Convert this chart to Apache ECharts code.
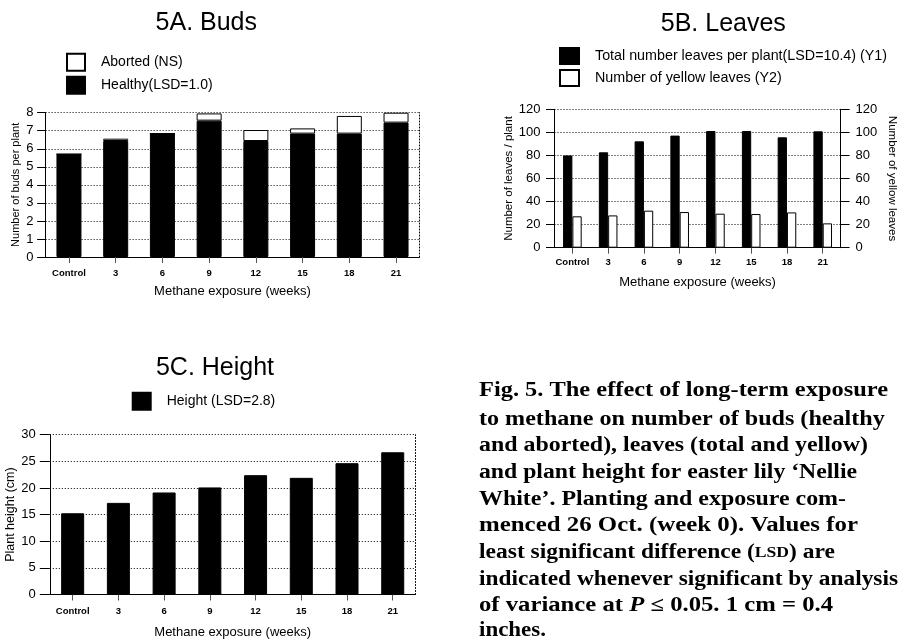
<!DOCTYPE html>
<html>
<head>
<meta charset="utf-8">
<script src="https://cdn.jsdelivr.net/npm/echarts@6/dist/echarts.min.js"></script>
<style>
html,body{margin:0;padding:0;background:#fff;}
#c{width:905px;height:640px;}
</style>
</head>
<body>
<div id="c"></div>
<script>
// ---- data ----
var categories = ['Control', '3', '6', '9', '12', '15', '18', '21'];
var budsHealthy = [5.7, 6.43, 6.84, 7.56, 6.43, 6.84, 6.84, 7.45];
var budsAborted = [0, 0.13, 0, 0.4, 0.61, 0.29, 0.98, 0.55];
var leavesTotal = [80, 82.7, 92.2, 97.2, 101.2, 101.2, 95.7, 100.9];
var leavesYellow = [27.2, 28, 32.1, 30.9, 29.5, 29.2, 30.6, 21.1];
var plantHeight = [15.25, 17.2, 19.15, 20.1, 22.4, 21.9, 24.65, 26.7];
var budTicks = {min: 0, max: 8, interval: 1};
var leafTicks = {min: 0, max: 120, interval: 20};
var heightTicks = {min: 0, max: 30, interval: 5};
var captionLines = [
  'Fig. 5. The effect of long-term exposure',
  'to methane on number of buds (healthy',
  'and aborted), leaves (total and yellow)',
  'and plant height for easter lily \u2018Nellie',
  'White\u2019. Planting and exposure com-',
  'menced 26 Oct. (week 0). Values for',
  'least significant difference ({sc|LSD}) are',
  'indicated whenever significant by analysis',
  'of variance at {i|P} \u2264 0.05. 1 cm = 0.4',
  'inches.'
];

// ---- layout (not data) ----
var captionLayout = {
  x: 479,
  ys: [393.3, 421.7, 448.3, 475, 501.7, 528.3, 555, 581.7, 608.3, 633.3],
  widths: [409, 405.7, 389, 378, 367, 379, 356, 419, 354, 67],
  fontSize: 20
};

var FONT = '"Liberation Sans", Arial, Helvetica, sans-serif';
var SERIF = '"Liberation Serif", "Times New Roman", serif';
var chart = echarts.init(document.getElementById('c'), null, {renderer: 'canvas'});

var measureCtx = document.createElement('canvas').getContext('2d');
function plainWidth(line) {
  measureCtx.font = 'bold ' + captionLayout.fontSize + 'px ' + SERIF;
  var plain = line.replace(/\{sc\|([^}]*)\}/g, '$1').replace(/\{i\|([^}]*)\}/g, '$1');
  var w = measureCtx.measureText(plain).width;
  var sc = line.match(/\{sc\|([^}]*)\}/);
  if (sc) {
    var full = measureCtx.measureText(sc[1]).width;
    w -= full * 0.25;
  }
  return w;
}

function catAxis(gi, labelMargin, nameGap) {
  return {
    type: 'category', gridIndex: gi, data: categories,
    axisLine: {show: true, lineStyle: {color: '#000', width: 1}},
    axisTick: {show: true, alignWithLabel: true, interval: 0, length: 6, lineStyle: {color: '#555'}},
    axisLabel: {color: '#000', fontFamily: FONT, fontSize: 9.5, fontWeight: 'bold', margin: labelMargin, interval: 0},
    name: 'Methane exposure (weeks)', nameLocation: 'middle', nameGap: nameGap,
    nameTextStyle: {color: '#000', fontFamily: FONT, fontSize: 13}
  };
}
function valAxis(gi, ticks, name, nameGap, nameSize, labelSize, labelMargin, tickLen) {
  return {
    type: 'value', gridIndex: gi, min: ticks.min, max: ticks.max, interval: ticks.interval,
    axisLine: {show: true, lineStyle: {color: '#000', width: 1}},
    axisTick: {show: true, length: tickLen, lineStyle: {color: '#000'}},
    axisLabel: {color: '#000', fontFamily: FONT, fontSize: labelSize, margin: labelMargin},
    splitLine: {show: true, lineStyle: {color: '#000', width: 1, type: [1, 2]}},
    name: name, nameLocation: 'middle', nameGap: nameGap, nameRotate: 90,
    nameTextStyle: {color: '#000', fontFamily: FONT, fontSize: nameSize}
  };
}
function borderAxis(gi, ticks) {
  return {
    type: 'value', gridIndex: gi, position: 'right', min: ticks.min, max: ticks.max, interval: ticks.interval,
    axisLine: {show: true, lineStyle: {color: '#000', width: 1, type: [1, 2]}},
    axisTick: {show: false}, axisLabel: {show: false}, splitLine: {show: false}
  };
}

var rightLeaf = {
  type: 'value', gridIndex: 1, position: 'right', min: leafTicks.min, max: leafTicks.max, interval: leafTicks.interval,
  axisLine: {show: true, lineStyle: {color: '#000', width: 1}},
  axisTick: {show: true, length: 9, lineStyle: {color: '#000'}},
  axisLabel: {color: '#000', fontFamily: FONT, fontSize: 13, margin: 15},
  splitLine: {show: false},
  name: 'Number of yellow leaves', nameLocation: 'middle', nameGap: 46, nameRotate: -90,
  nameTextStyle: {color: '#000', fontFamily: FONT, fontSize: 11.5}
};

var fs = captionLayout.fontSize;
var captionGraphics = captionLines.map(function (t, i) {
  var sx = captionLayout.widths[i] / plainWidth(t);
  return {
    type: 'text', x: captionLayout.x, y: captionLayout.ys[i] - 2, scaleX: sx, scaleY: 1,
    style: {
      text: t, fill: '#000', font: 'bold ' + fs + 'px ' + SERIF, verticalAlign: 'middle', align: 'left',
      rich: {
        i: {font: 'bold italic ' + fs + 'px ' + SERIF, fill: '#000'},
        sc: {font: 'bold ' + Math.round(fs * 0.75) + 'px ' + SERIF, fill: '#000'}
      }
    }
  };
});

var titleText = function (text, cx, cy) {
  return {type: 'text', x: cx, y: cy, style: {text: text, fill: '#000', font: '25px ' + FONT, align: 'center', verticalAlign: 'middle'}};
};

var legendText = {color: '#000', fontFamily: FONT, fontSize: 14, padding: [0, 0, 0, 11]};

var option = {
  animation: false,
  backgroundColor: '#fff',
  grid: [
    {left: 45.6, top: 112.7, width: 373.8, height: 144.3},
    {left: 554.5, top: 109.3, width: 286.1, height: 138.4},
    {left: 49.8, top: 434.7, width: 365.8, height: 161.3}
  ],
  legend: [
    {left: 66, top: 52.7, padding: 0, orient: 'vertical', icon: 'rect', itemWidth: 18, itemHeight: 17, itemGap: 4,
     data: ['Aborted (NS)', 'Healthy(LSD=1.0)'], textStyle: legendText},
    {left: 559, top: 47, padding: 0, orient: 'vertical', icon: 'rect', itemWidth: 19, itemHeight: 16, itemGap: 4,
     data: ['Total number leaves per plant(LSD=10.4) (Y1)', 'Number of yellow leaves (Y2)'],
     textStyle: {color: '#000', fontFamily: FONT, fontSize: 14.3, padding: [0, 0, 0, 11]}},
    {left: 131.7, top: 391.7, padding: 0, orient: 'vertical', icon: 'rect', itemWidth: 18, itemHeight: 17,
     data: ['Height (LSD=2.8)'], textStyle: legendText}
  ],
  xAxis: [catAxis(0, 11, 27.5), catAxis(1, 10, 28), catAxis(2, 11.5, 31.5)],
  yAxis: [
    valAxis(0, budTicks, 'Number of buds per plant', 24, 11, 13, 12, 8.5),
    borderAxis(0, budTicks),
    valAxis(1, leafTicks, 'Number of leaves / plant', 38, 11.5, 13, 14, 8.5),
    rightLeaf,
    valAxis(2, heightTicks, 'Plant height (cm)', 27, 12.5, 13, 14, 10),
    borderAxis(2, heightTicks)
  ],
  series: [
    {name: 'Healthy(LSD=1.0)', type: 'bar', xAxisIndex: 0, yAxisIndex: 0, stack: 'buds', barWidth: 25,
     data: budsHealthy, itemStyle: {color: '#000', borderColor: '#000', borderWidth: 1}},
    {name: 'Aborted (NS)', type: 'bar', xAxisIndex: 0, yAxisIndex: 0, stack: 'buds', barWidth: 25,
     data: budsAborted, itemStyle: {color: '#fff', borderColor: '#000', borderWidth: 1}},
    {name: 'Total number leaves per plant(LSD=10.4) (Y1)', type: 'bar', xAxisIndex: 1, yAxisIndex: 2,
     barWidth: 9.3, barGap: '0%', data: leavesTotal, itemStyle: {color: '#000', borderColor: '#000', borderWidth: 1}},
    {name: 'Number of yellow leaves (Y2)', type: 'bar', xAxisIndex: 1, yAxisIndex: 3,
     barWidth: 9.3, barGap: '0%', data: leavesYellow, itemStyle: {color: '#fff', borderColor: '#000', borderWidth: 1}},
    {name: 'Height (LSD=2.8)', type: 'bar', xAxisIndex: 2, yAxisIndex: 4, barWidth: 23,
     data: plantHeight, itemStyle: {color: '#000', borderColor: '#000', borderWidth: 1}}
  ],
  graphic: [
    titleText('5A. Buds', 206.3, 23),
    titleText('5B. Leaves', 723.3, 24.5),
    titleText('5C. Height', 215, 368.5)
  ].concat(captionGraphics)
};
chart.setOption(option);
</script>
</body>
</html>
